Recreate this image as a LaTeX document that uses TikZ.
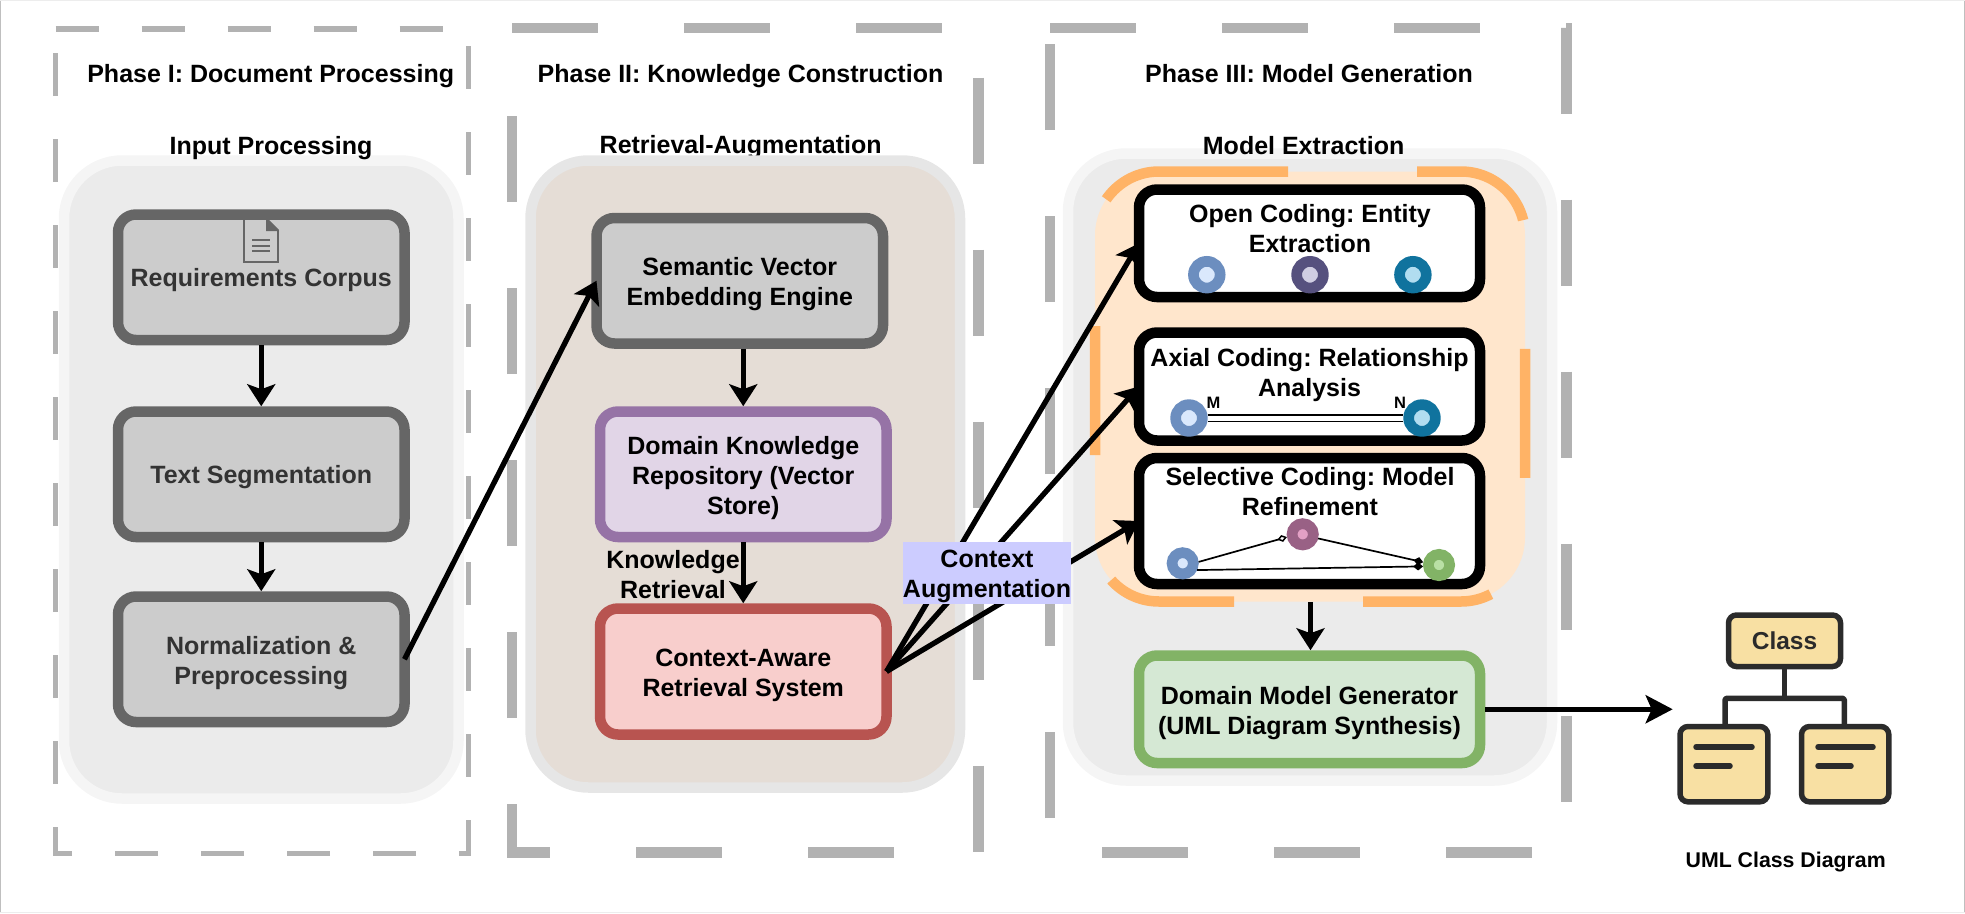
\documentclass[tikz,border=0pt]{standalone}
\usepackage{fontspec}
\setmainfont{Liberation Sans}
\usetikzlibrary{arrows.meta,calc}
\AtBeginDocument{\frenchspacing}
\definecolor{frameC}{HTML}{B2B2B2}
\definecolor{greyS}{HTML}{666666}
\definecolor{greyF}{HTML}{CCCCCC}
\definecolor{contS}{HTML}{F5F5F5}
\definecolor{contF}{HTML}{EBEBEB}
\definecolor{midS}{HTML}{E6E6E6}
\definecolor{midF}{HTML}{E5DDD6}
\definecolor{orgS}{HTML}{FFB366}
\definecolor{orgF}{HTML}{FFE6CC}
\definecolor{purS}{HTML}{9673A6}
\definecolor{purF}{HTML}{E1D5E7}
\definecolor{redS}{HTML}{B85450}
\definecolor{redF}{HTML}{F8CECC}
\definecolor{grnS}{HTML}{82B366}
\definecolor{grnF}{HTML}{D5E8D4}
\definecolor{bluS}{HTML}{6C8EBF}
\definecolor{bluF}{HTML}{DAE8FC}
\definecolor{indS}{HTML}{56517E}
\definecolor{indF}{HTML}{D0CEE2}
\definecolor{tealS}{HTML}{10739E}
\definecolor{tealF}{HTML}{B1DDF0}
\definecolor{pinkS}{HTML}{996185}
\definecolor{pinkF}{HTML}{E3A0C5}
\definecolor{limeF}{HTML}{B9E0A5}
\definecolor{lavF}{HTML}{CCCCFF}
\definecolor{umlF}{HTML}{F8E0A3}
\definecolor{umlS}{HTML}{2B2B2B}
\newcommand{\zs}{\rule[-6pt]{0pt}{30pt}}
\newcommand{\zt}{\rule[-6pt]{0pt}{32pt}}
\tikzset{
  x=1pt,y=-1pt,
  txt/.style={inner sep=0pt,outer sep=0pt,align=center,font=\fontsize{25}{30}\selectfont\bfseries},
  container/.style={line width=10.5pt,rounded corners=58pt,inner sep=0pt,outer sep=0pt},
  stepbox/.style={txt,line width=10.5pt,rounded corners=18pt,draw=#1,minimum width=286.5pt,minimum height=125.5pt},
  codebox/.style={txt,line width=10.5pt,rounded corners=18pt,draw=black,fill=white,minimum width=341pt},
  ring/.style n args={3}{circle,draw=#1,fill=#2,line width=10.7pt,minimum size=#3,inner sep=0pt,outer sep=5.35pt},
  flow/.style={line width=5.3pt,-{Stealth[length=22pt,width=28pt,inset=5pt]}},
  thin link/.style={line width=1.7pt,draw=black},
  phase/.style={draw=frameC,line width=#1},
  umlbox/.style={draw=umlS,fill=umlF,line width=5.5pt,rounded corners=8pt,inner sep=0pt,outer sep=2.75pt},
  umlwire/.style={draw=umlS,line width=5.5pt,line join=round},
  umlline/.style={draw=umlS,line width=5.5pt,line cap=round},
}
\begin{document}
\begin{tikzpicture}
\useasboundingbox (0,0) rectangle (1965,913);
% page edge
\draw[color=black!25,line width=1.2pt] (0.6,0) -- (0.6,913) (1964.4,0) -- (1964.4,913);
\draw[color=black!7,line width=1pt] (0,0.5) -- (1965,0.5) (0,912.5) -- (1965,912.5);
% phase frames
\draw[phase=5.3pt,dash pattern=on 43pt off 43pt] (55.5,29) -- (468.5,29) -- (468.5,853.5) -- (55.5,853.5) -- (55.5,40);
\draw[phase=10.5pt,dash pattern=on 86pt off 86pt] (512,28) -- (978.5,28) -- (978.5,852.5) -- (512,852.5) -- (512,40);
\draw[phase=10.5pt,dash pattern=on 86pt off 86pt] (1050,28) -- (1566.5,28) -- (1566.5,852.5) -- (1050,852.5) -- (1050,40);
% titles
\node[txt] (ph1) at (270.7,73.3) {\zs Phase I: Document Processing};
\node[txt] (ph2) at (740.5,73.3) {\zs Phase II: Knowledge Construction};
\node[txt] (ph3) at (1309,73.3) {\zs Phase III: Model Generation};
\node[txt] (t2) at (740.7,144.5) {\zs Retrieval-Augmentation};
% containers
\node[container,draw=contS,fill=contF,minimum width=394.5pt,minimum height=638pt] (c1) at (261.25,479.5) {};
\node[txt] (t1) at (271,145.3) {\zs Input Processing};
\node[container,draw=midS,fill=midF,minimum width=429.5pt,minimum height=627pt] (c2) at (745.25,474) {};
\node[container,draw=contS,fill=contF,minimum width=484pt,minimum height=627pt] (c3) at (1310,467) {};
\node[txt] (t3) at (1303.6,145.3) {\zs Model Extraction};
% coding group
\draw[draw=orgS,fill=orgF,line width=10.5pt,dash pattern=on 129pt off 129pt]
  (1159,171.5) -- (1461,171.5) .. controls (1496.3,171.5) and (1525,200.2) .. (1525,235.5)
  -- (1525,537.5) .. controls (1525,572.8) and (1496.3,601.5) .. (1461,601.5)
  -- (1159,601.5) .. controls (1123.7,601.5) and (1095,572.8) .. (1095,537.5)
  -- (1095,235.5) .. controls (1095,200.2) and (1123.7,171.5) .. (1159,171.5) -- cycle;
\coordinate (grpbot) at (1310.5,602);
% phase I boxes
\node[stepbox=greyS,fill=greyF,text=black!80] (req) at (261.25,277.25) {\zs Requirements Corpus};
\node[stepbox=greyS,fill=greyF,text=black!80] (seg) at (261.25,474.25) {\zs Text Segmentation};
\node[stepbox=greyS,fill=greyF,text=black!80] (nor) at (261.25,659.25) {\zt Normalization \&\\\zs Preprocessing};
% document icon
\draw[draw=greyS,line width=1.7pt,line join=miter] (244,219) -- (267,219) -- (278,230) -- (278,262) -- (244,262) -- cycle;
\fill[greyS] (266,218) -- (279,231) -- (266,231) -- cycle;
\draw[greyS,line width=1.7pt] (252,240) -- (270,240) (252,245.7) -- (270,245.7) (252,251.3) -- (270,251.3);
% phase II boxes
\node[stepbox=greyS,fill=greyF] (sem) at (739.75,280.75) {\zt Semantic Vector\\\zs Embedding Engine};
\node[stepbox=purS,fill=purF] (dom) at (743.25,474.25) {\zt Domain Knowledge\\\zs Repository (Vector\\\zs Store)};
\node[stepbox=redS,fill=redF,minimum height=126pt] (ctx) at (743.25,671.5) {\zt Context-Aware\\\zs Retrieval System};
% phase III boxes
\node[codebox,minimum height=107.5pt] (open) at (1309.5,243.25) {};
\node[codebox,minimum height=108pt] (axi) at (1309.5,386.5) {};
\node[codebox,minimum height=126pt] (sel) at (1309.5,521) {};
\node[txt] (opent) at (1310,228) {\zs Open Coding: Entity\\\zs Extraction};
\node[txt] (axit) at (1309.5,372.3) {\zs Axial Coding: Relationship\\\zs Analysis};
\node[txt] (selt) at (1310,491.8) {\zs Selective Coding: Model\\\zs Refinement};
\node[ring={bluS}{bluF}{26.7pt}] (o1) at (1206.8,274.7) {};
\node[ring={indS}{indF}{26.7pt}] (o2) at (1310,274.7) {};
\node[ring={tealS}{tealF}{26.7pt}] (o3) at (1412.9,274.7) {};
% axial link
\node[ring={bluS}{bluF}{26.7pt}] (a1) at (1189,418) {};
\node[ring={tealS}{tealF}{26.7pt}] (a2) at (1422,418) {};
\draw[thin link,double=white,double distance=5pt] (a1.east) -- (a2.west);
\node[txt,font=\fontsize{16.5}{20}\selectfont\bfseries] (m) at (1213.5,403) {M};
\node[txt,font=\fontsize{16.5}{20}\selectfont\bfseries] (n) at (1400,403) {N};
% selective links
\node[ring={bluS}{bluF}{21.3pt}] (s1) at (1182.7,563.3) {};
\node[ring={pinkS}{pinkF}{21.3pt}] (s2) at (1302.7,534.3) {};
\node[ring={grnS}{limeF}{21.3pt}] (s3) at (1439,565) {};
\draw[thin link,-{Diamond[open,fill=white,length=10pt,width=7pt,line width=1.5pt]}] (s1.5) -- (s2.190);
\draw[thin link,-{Diamond[length=10pt,width=8pt]}] (s2.-15) -- (s3.170);
\draw[thin link,-{Diamond[length=10pt,width=8pt]}] (s1.-25) -- (s3.185);
% generator
\node[stepbox=grnS,fill=grnF,minimum width=341pt,minimum height=107.5pt] (gen) at (1309.5,709.25) {\zt Domain Model Generator\\\zs (UML Diagram Synthesis)};
% UML icon
\node[umlbox,minimum width=112pt,minimum height=51.5pt,font=\fontsize{24.5}{28}\selectfont\bfseries,text=umlS] (cls) at (1784.5,640.75) {Class};
\node[umlbox,minimum width=87.8pt,minimum height=75.3pt] (ul) at (1723.9,764.15) {};
\node[umlbox,minimum width=87.3pt,minimum height=75.3pt] (ur) at (1845.15,764.15) {};
\coordinate (bus) at (1784.5,698.3);
\coordinate (ulx) at (1725,724);
\coordinate (urx) at (1844.3,724);
\draw[umlwire] (cls.south) -- (bus);
\draw[umlwire,rounded corners=1.5pt] (ulx) -- (ulx |- bus) -- (urx |- bus) -- (urx);
\draw[umlline] (1696,747) -- (1752,747) (1696,766) -- (1730,766);
\draw[umlline] (1818,747) -- (1873,747) (1818,766) -- (1851,766);
\node[txt,font=\fontsize{21.3}{26}\selectfont\bfseries] (umlcap) at (1785.7,861.7) {UML Class Diagram};
% connectors
\draw[flow,shorten <=5.25pt,shorten >=5.25pt] (req.south) -- (seg.north);
\draw[flow,shorten <=5.25pt,shorten >=5.25pt] (seg.south) -- (nor.north);
\draw[flow] (nor.east) -- (sem.west);
\draw[flow,shorten <=5.25pt,shorten >=5.25pt] (dom.north |- sem.south) -- (dom.north);
\draw[flow,shorten <=5.25pt,shorten >=5.25pt] (dom.south) -- (ctx.north);
\node[txt] (kr) at (673,574) {\zs Knowledge\\\zs Retrieval};
\draw[flow] (ctx.east) -- (open.west);
\draw[flow] (ctx.east) -- (axi.west);
\draw[flow] (ctx.east) -- (sel.west);
\draw[flow,shorten >=5.25pt] (grpbot) -- (gen.north -| grpbot);
\draw[line width=5pt,-{Stealth[length=27pt,width=28pt,inset=6pt]},shorten <=5.25pt] (gen.east) -- (1672.7,709.25);
\node[txt,fill=lavF,minimum width=168.5pt,minimum height=61pt] (aug) at (987,572.8) {\zt Context\\\zs Augmentation};
\end{tikzpicture}
\end{document}
